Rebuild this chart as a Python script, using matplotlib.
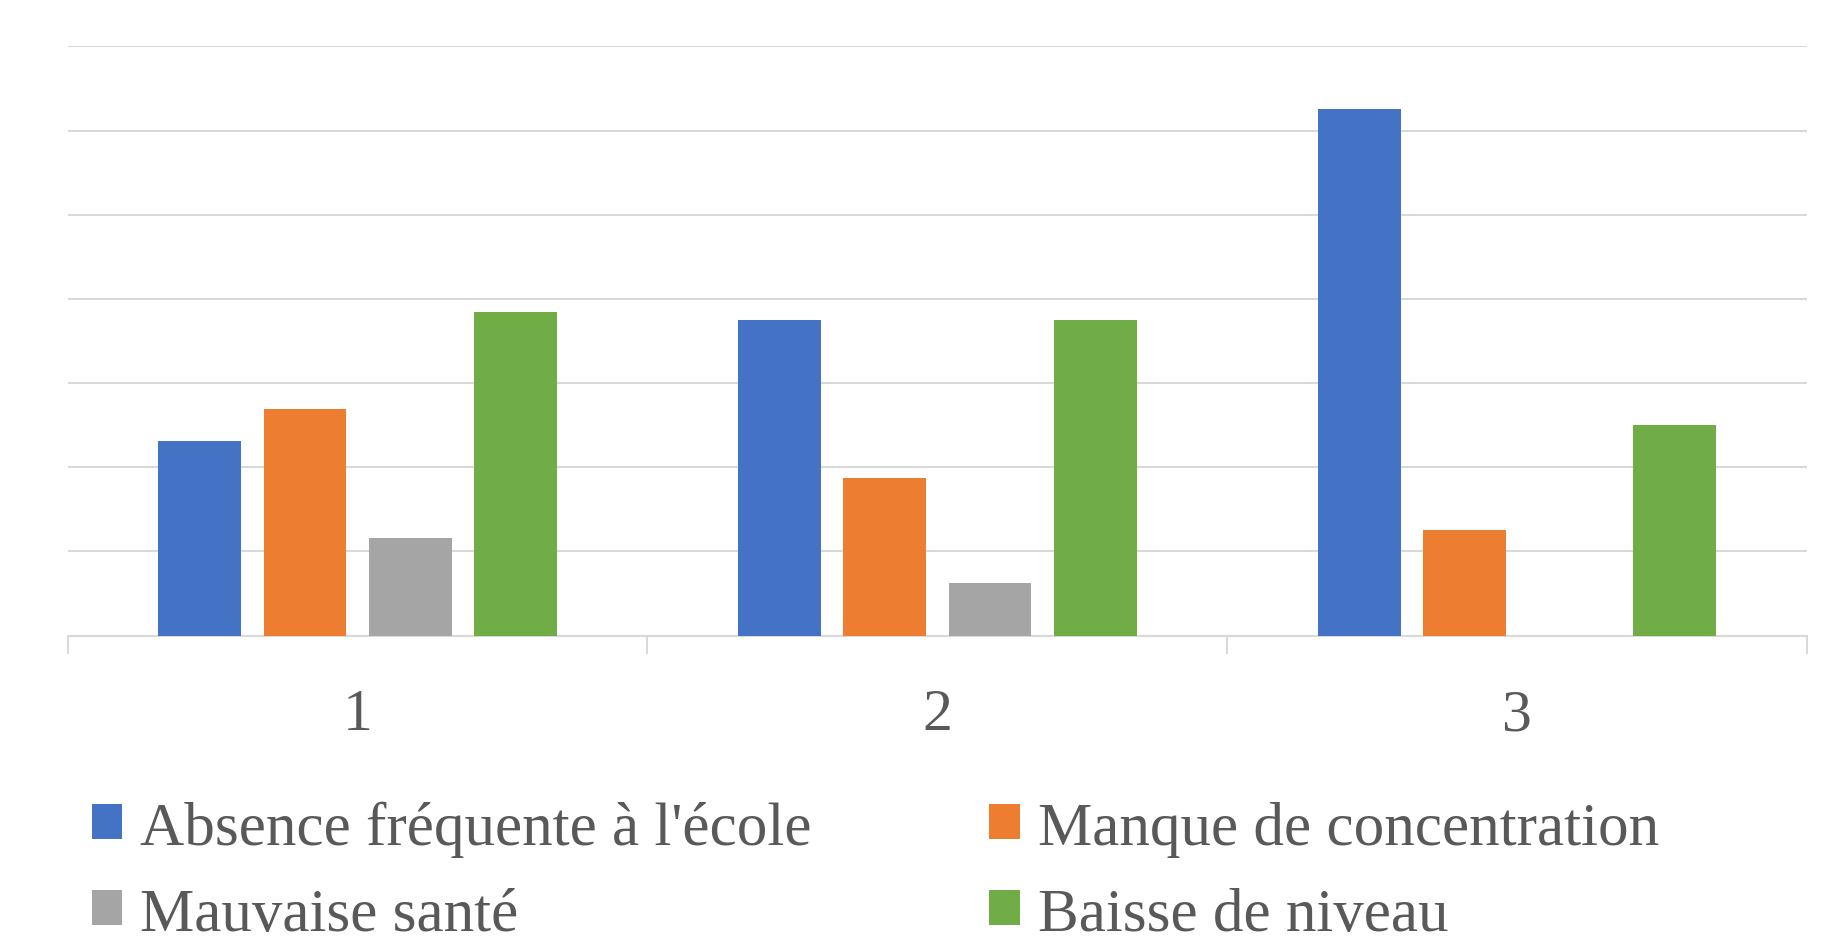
import matplotlib
matplotlib.use("Agg")
import matplotlib.pyplot as plt
from matplotlib.patches import Patch
import numpy as np

# donnees (en %)
groupes = ["1", "2", "3"]
series = ["Absence fréquente à l'école", "Manque de concentration",
          "Mauvaise santé", "Baisse de niveau"]
absence = [18.46, 30.0, 50.0]
concentration = [21.54, 15.0, 10.0]
sante = [9.23, 5.0, 0.0]
niveau = [30.77, 30.0, 20.0]
couleurs = ["#4472C4", "#ED7D31", "#A5A5A5", "#70AD47"]

valeurs = [absence, concentration, sante, niveau]

plt.rcParams['font.family'] = ['Liberation Serif', 'DejaVu Serif']

fig = plt.figure(figsize=(18.32, 9.37), dpi=100)
ax = fig.add_axes([0.037, 0.3206, 0.9493, 0.6289])

x = np.arange(1, len(groupes) + 1)
largeur = 0.143
pas = 0.1815
for i, v in enumerate(valeurs):
    ax.bar(x + (i - 1.5) * pas, v, largeur, color=couleurs[i], zorder=3)

ax.set_xlim(0.5, 3.5)
ax.set_ylim(0, 56)
ax.set_yticks(np.arange(0, 57, 8))
ax.yaxis.grid(True, color="#D9D9D9", linewidth=1.5, zorder=0)
ax.tick_params(axis='y', left=False, labelleft=False)

# graduations aux limites des groupes, etiquettes au centre
ax.set_xticks([0.5, 1.5, 2.5, 3.5])
ax.set_xticklabels([])
ax.tick_params(axis='x', which='major', length=13, width=1.5, color="#D9D9D9")
ax.set_xticks(x, minor=True)
ax.set_xticklabels(groupes, minor=True)
ax.tick_params(axis='x', which='minor', length=0, pad=38, labelsize=43,
               labelcolor="#595959")

for s in ["top", "left", "right"]:
    ax.spines[s].set_visible(False)
ax.spines["bottom"].set_color("#D9D9D9")
ax.spines["bottom"].set_linewidth(1.5)

# legende remplie par lignes (matplotlib remplit par colonnes)
ordre = [0, 2, 1, 3]
poignees = [Patch(facecolor=couleurs[i], edgecolor='none') for i in ordre]
fig.legend(poignees, [series[i] for i in ordre], ncol=2, loc='upper left',
           bbox_to_anchor=(0.05, 0.145), frameon=False, fontsize=44,
           labelcolor="#595959", handlelength=0.5, handleheight=0.5,
           handletextpad=0.3, columnspacing=2.9, labelspacing=0.5,
           borderpad=0, borderaxespad=0)

fig.savefig("out.png", dpi=100)
